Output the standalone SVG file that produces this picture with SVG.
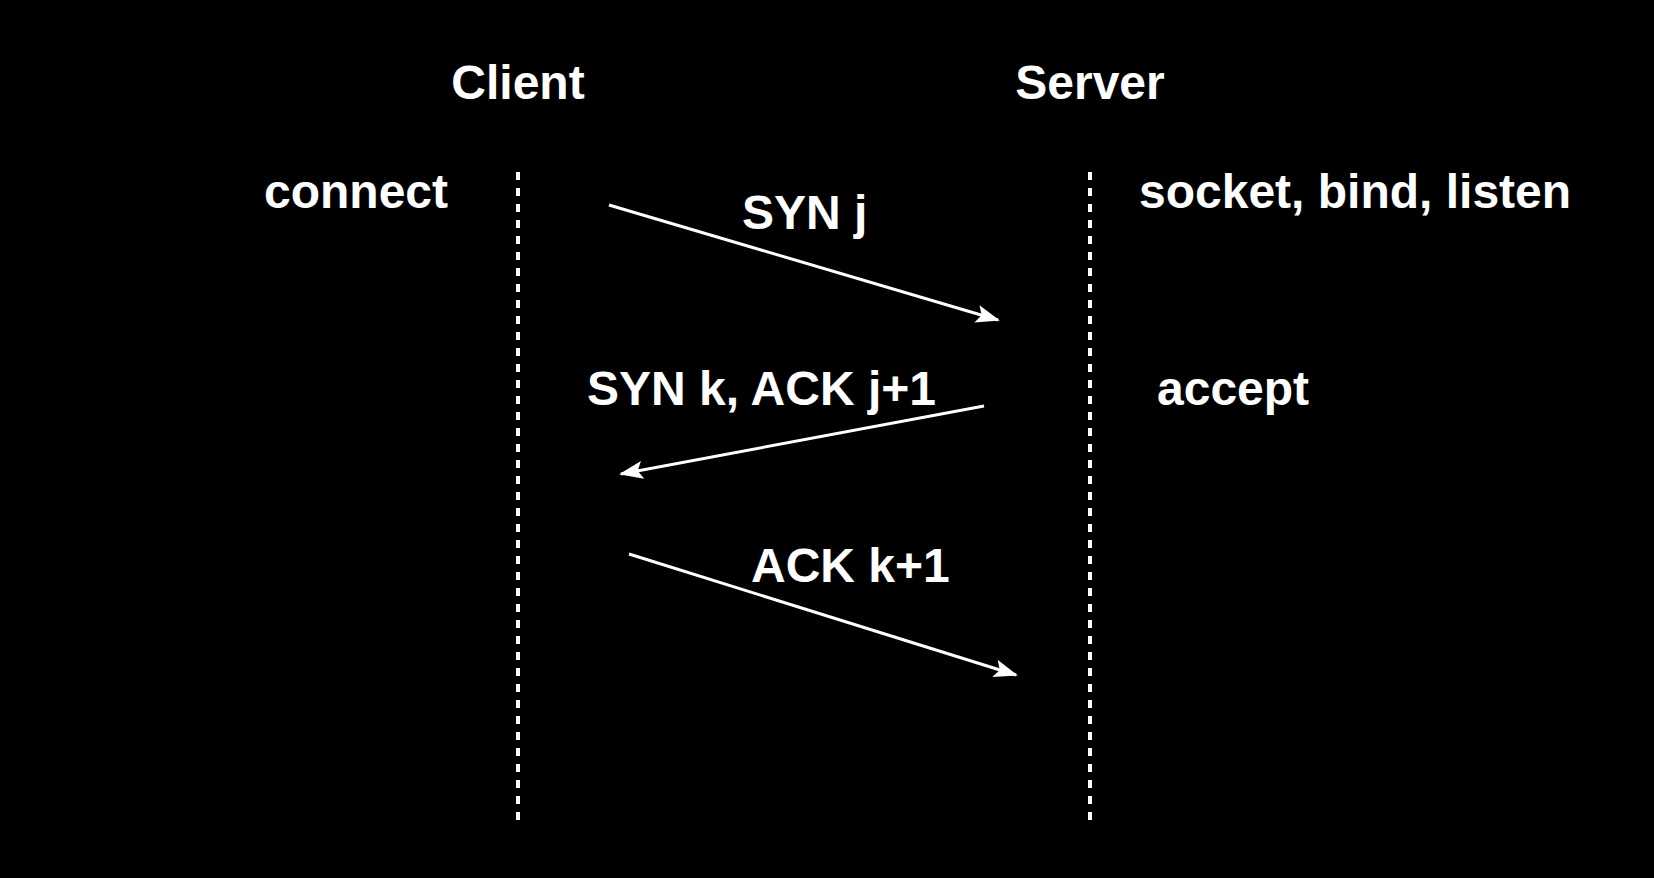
<svg xmlns="http://www.w3.org/2000/svg" width="1654" height="878" viewBox="0 0 1654 878">
<style>
text{font-family:"Liberation Sans",Arial,sans-serif;font-weight:bold;fill:#fff;font-size:48px}
.life{stroke:#fff;stroke-width:4;stroke-dasharray:8 8;fill:none}
.msg{stroke:#fff;stroke-width:3;fill:none}
</style>
<defs>
<marker id="ah" markerUnits="userSpaceOnUse" markerWidth="28" markerHeight="20" refX="22" refY="9" orient="auto">
<path d="M0,0 L24,9 L0,18 L5,9 Z" fill="#fff"/>
</marker>
</defs>
<rect width="1654" height="878" fill="#000"/>
<g id="client">
<text x="518" y="99" text-anchor="middle">Client</text>
<line class="life" x1="518" y1="172" x2="518" y2="820"/>
<text x="448" y="208" text-anchor="end">connect</text>
</g>
<g id="server">
<text x="1090" y="99" text-anchor="middle">Server</text>
<line class="life" x1="1090" y1="172" x2="1090" y2="820"/>
<text x="1139" y="208">socket, bind, listen</text>
<text x="1157" y="405">accept</text>
</g>
<g id="connectors">
<line class="msg" x1="609" y1="205" x2="998" y2="320" marker-end="url(#ah)"/>
<text x="742" y="229">SYN j</text>
<line class="msg" x1="984" y1="406" x2="621" y2="474" marker-end="url(#ah)"/>
<text x="587" y="405">SYN k, ACK j+1</text>
<line class="msg" x1="629" y1="554" x2="1016" y2="675" marker-end="url(#ah)"/>
<text x="751" y="582">ACK k+1</text>
</g>
</svg>
